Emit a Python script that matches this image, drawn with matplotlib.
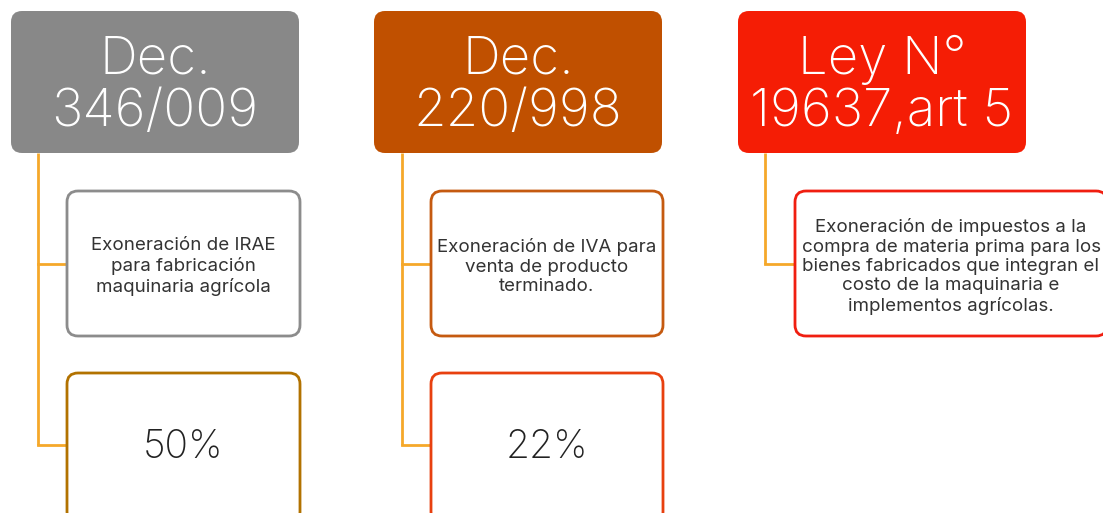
import matplotlib.pyplot as plt
from matplotlib.patches import FancyBboxPatch

plt.rcParams["font.family"] = ["Inter", "Roboto", "DejaVu Sans"]

# diagram content
HEADERS = ["Dec.\n346/009", "Dec.\n220/998", "Ley N°\n19637,art 5"]
DESCRIPTIONS = [
    "Exoneración de IRAE\npara fabricación\nmaquinaria agrícola",
    "Exoneración de IVA para\nventa de producto\nterminado.",
    "Exoneración de impuestos a la\ncompra de materia prima para los\n"
    "bienes fabricados que integran el\ncosto de la maquinaria e\n"
    "implementos agrícolas.",
]
RATES = ["50%", "22%", None]

HEADER_COLORS = ["#888888", "#c05000", "#f51d05"]
DESC_EDGE = ["#8c8c8c", "#c55a10", "#f01e10"]
RATE_EDGE = ["#b27200", "#e8400f", None]
LINE_COLOR = "#f5a82a"

# layout in pixel coords
HEAD_X = [11, 374, 738]
HEAD_W, HEAD_Y, HEAD_H = 288, 11, 142
BOX_W = [233, 232, 312]
BOX_X = [67, 431, 795]
DESC_Y, DESC_H = 191, 145
RATE_Y, RATE_H = 373, 150
LINE_X = [38, 402, 765]

fig = plt.figure(figsize=(11.03, 5.13), dpi=100)
ax = fig.add_axes([0, 0, 1, 1])
ax.set_xlim(0, 1103)
ax.set_ylim(513, 0)
ax.axis("off")


def rbox(x, y, w, h, fc, ec, lw):
    p = FancyBboxPatch((x, y), w, h, boxstyle="round,pad=0,rounding_size=11",
                       facecolor=fc, edgecolor=ec, linewidth=lw, zorder=3)
    ax.add_patch(p)


for i in range(3):
    rbox(HEAD_X[i], HEAD_Y, HEAD_W, HEAD_H, HEADER_COLORS[i], "none", 0)
    ax.text(HEAD_X[i] + HEAD_W / 2, HEAD_Y + HEAD_H / 2 + 4, HEADERS[i],
            color="white", fontsize=38, ha="center", va="center",
            linespacing=1.08, fontweight="light", zorder=4)

    lx = LINE_X[i]
    desc_mid = DESC_Y + DESC_H / 2
    bottom = desc_mid
    ax.plot([lx, BOX_X[i]], [desc_mid, desc_mid], color=LINE_COLOR, lw=2, zorder=2)
    rbox(BOX_X[i], DESC_Y, BOX_W[i], DESC_H, "white", DESC_EDGE[i], 2)
    ax.text(BOX_X[i] + BOX_W[i] / 2, desc_mid + 3, DESCRIPTIONS[i],
            color="#333333", fontsize=13.5, ha="center", va="center",
            linespacing=1.18, fontweight="normal", zorder=4)

    if RATES[i] is not None:
        rate_mid = RATE_Y + 72
        bottom = rate_mid
        ax.plot([lx, BOX_X[i]], [rate_mid, rate_mid], color=LINE_COLOR, lw=2, zorder=2)
        rbox(BOX_X[i], RATE_Y, BOX_W[i], RATE_H, "white", RATE_EDGE[i], 2)
        ax.text(BOX_X[i] + BOX_W[i] / 2, rate_mid + 2, RATES[i],
                color="#222222", fontsize=28, ha="center", va="center",
                fontweight="light", zorder=4)

    ax.plot([lx, lx], [HEAD_Y + HEAD_H, bottom], color=LINE_COLOR, lw=2,
            zorder=2, solid_capstyle="butt")

fig.savefig("out.png", dpi=100)
